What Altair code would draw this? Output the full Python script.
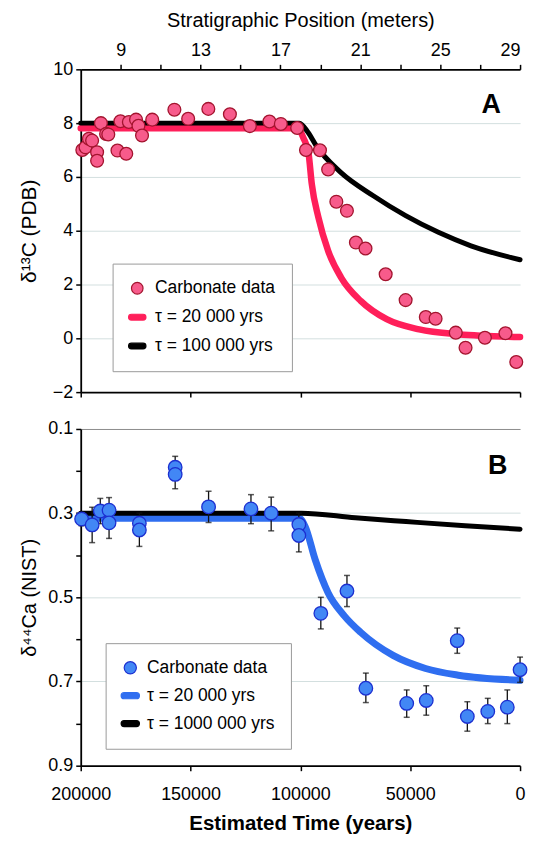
import altair as alt
import pandas as pd

FONT = "Liberation Sans"

# ---------------- Panel A : d13C vs stratigraphic position (m) ----------------
a_pos = [7.08, 7.24, 7.41, 7.57, 7.82, 7.82, 8.01, 8.27, 8.38, 8.84, 9.28, 8.99, 9.41, 9.77,
         9.89, 10.07, 10.58, 11.69, 12.38, 13.39, 14.47, 15.47, 16.45, 17.02, 17.84, 18.28,
         18.98, 19.39, 19.80, 20.33, 20.78, 21.26, 22.27, 23.27, 24.28, 24.77, 25.78, 26.27,
         27.24, 28.27, 28.81]
a_d13c = [7.0, 7.1, 7.42, 7.35, 6.92, 6.6, 8.0, 7.6, 7.58, 6.98, 6.86, 8.07, 8.04, 8.13,
          7.9, 7.54, 8.13, 8.5, 8.16, 8.53, 8.33, 7.89, 8.06, 7.97, 7.82, 7.0,
          6.99, 6.28, 5.08, 4.74, 3.56, 3.34, 2.38, 1.42, 0.79, 0.73, 0.21, -0.35,
          0.02, 0.19, -0.88]

# model curve tau = 20 000 yrs
a_fast_pos = [7.0, 17.85, 18.15, 18.41, 18.57, 18.90, 19.39, 20.04, 21.02, 22.32, 23.95, 25.91, 29.0]
a_fast_val = [7.81, 7.81, 7.45, 6.86, 5.74, 4.5, 3.25, 2.26, 1.39, 0.71, 0.33, 0.15, 0.05]
# model curve tau = 100 000 yrs
a_slow_pos = [7.0, 17.95, 18.38, 18.8, 20.02, 21.65, 23.27, 24.91, 26.54, 29.0]
a_slow_val = [8.0, 8.0, 7.66, 7.15, 6.17, 5.3, 4.56, 3.94, 3.44, 2.92]

a_legend = ["Carbonate data", "τ = 20 000 yrs", "τ = 100 000 yrs"]

# ---------------- Panel B : d44Ca vs estimated time (years) ----------------
b_time = [199600, 194800, 191100, 187100, 187100, 173300, 173300, 157000, 157000, 141800,
          122500, 113300, 100700, 100700, 90700, 78800, 70200, 51600, 42700, 28600,
          24000, 14700, 5800, 0]
b_d44 = [0.314, 0.328, 0.295, 0.293, 0.323, 0.324, 0.340, 0.191, 0.208, 0.285,
         0.29, 0.30, 0.327, 0.353, 0.538, 0.485, 0.716, 0.752, 0.745, 0.603,
         0.783, 0.771, 0.761, 0.672]

e_time = [199600, 194800, 191100, 187100, 173300, 157000, 141800, 122500, 113300, 100700,
          90700, 78800, 70200, 51600, 42700, 28600, 24000, 14700, 5800, 0]
e_lo = [0.30, 0.286, 0.265, 0.263, 0.30, 0.165, 0.248, 0.256, 0.262, 0.30,
        0.50, 0.448, 0.68, 0.72, 0.71, 0.573, 0.748, 0.74, 0.72, 0.642]
e_hi = [0.33, 0.37, 0.325, 0.36, 0.379, 0.242, 0.322, 0.325, 0.342, 0.392,
        0.575, 0.522, 0.75, 0.785, 0.78, 0.633, 0.818, 0.80, 0.80, 0.702]

b_fast_time = [200000, 100500, 97800, 93300, 87400, 80000, 72600, 57800, 43000, 28100, 0]
b_fast_val = [0.312, 0.312, 0.332, 0.41, 0.489, 0.544, 0.583, 0.638, 0.669, 0.685, 0.697]
b_slow_time = [200000, 99500, 75000, 51900, 25000, 0]
b_slow_val = [0.30, 0.30, 0.311, 0.32, 0.33, 0.338]

b_legend = ["Carbonate data", "τ = 20 000 yrs", "τ = 1000 000 yrs"]

# axis tick values / labels
strat_ticks = [9, 11, 13, 15, 17, 19, 21, 23, 25, 27, 29]
time_ticks = [0, 50000, 100000, 150000, 200000]
d13c_ticks = [-2, -1, 0, 1, 2, 3, 4, 5, 6, 7, 8, 9, 10]
d44_ticks = [0.1, 0.2, 0.3, 0.4, 0.5, 0.6, 0.7, 0.8, 0.9]

# colours
PINK_FILL, PINK_EDGE, PINK_LINE = "#f75b8b", "#a3142e", "#ff1f5a"
BLUE_FILL, BLUE_EDGE, BLUE_LINE = "#4287f5", "#1c2fd0", "#2f6ef0"
GRID = "#d3dfdf"
BAR = "M-1,-0.5 L1,-0.5 A0.5,0.5 0 0 1 1,0.5 L-1,0.5 A0.5,0.5 0 0 1 -1,-0.5 Z"

W = 441
HA, HB = 324, 338

# ---------------- build panel A ----------------
df_a = pd.DataFrame({"pos": a_pos, "val": a_d13c, "series": a_legend[0]})
df_af = pd.DataFrame({"pos": a_fast_pos, "val": a_fast_val})
df_as = pd.DataFrame({"pos": a_slow_pos, "val": a_slow_val})

xa = alt.Scale(domain=[7, 29], nice=False, zero=False)
ya = alt.Scale(domain=[-2, 10], nice=False, zero=False)
xa_axis = alt.Axis(orient="top", values=strat_ticks, labelFlush=True,
                   labelExpr="(datum.value - 9) % 4 == 0 ? datum.label : ''",
                   title="Stratigraphic Position (meters)", grid=False, titleFontSize=20,
                   labelPadding=5, titlePadding=11, titleFontWeight="normal")
ya_axis = alt.Axis(values=d13c_ticks, labelExpr="datum.value % 2 == 0 ? datum.label : ''",
                   title="δ¹³C (PDB)", titleFontSize=21, titleFontWeight="normal", titlePadding=13,
                   grid=True,
                   gridColor={"condition": {"test": "datum.value % 2 == 0 && datum.value > -2 && datum.value < 10",
                                            "value": GRID}, "value": "transparent"})

leg_a = alt.Legend(title=None, orient="none", legendX=32, legendY=195,
                   fillColor="white", strokeColor="#9a9a9a", padding=16,
                   labelFont=FONT, labelFontSize=17.5, symbolSize=135, rowPadding=10,
                   labelOffset=9, symbolStrokeWidth=1.2)

a_fast = alt.Chart(df_af).mark_line(color=PINK_LINE, strokeWidth=6.5, interpolate="monotone",
                                   strokeCap="round").encode(
    x=alt.X("pos:Q", scale=xa, axis=xa_axis), y=alt.Y("val:Q", scale=ya, axis=ya_axis))
a_slow = alt.Chart(df_as).mark_line(color="black", strokeWidth=5, interpolate="monotone",
                                   strokeCap="round").encode(
    x=alt.X("pos:Q"), y=alt.Y("val:Q"))
a_pts = alt.Chart(df_a).mark_point(filled=True, size=165, opacity=1, strokeWidth=1.3).encode(
    x=alt.X("pos:Q"), y=alt.Y("val:Q"),
    fill=alt.Fill("series:N", scale=alt.Scale(domain=a_legend, range=[PINK_FILL, PINK_LINE, "black"]), legend=leg_a),
    stroke=alt.Stroke("series:N", scale=alt.Scale(domain=a_legend, range=[PINK_EDGE, PINK_LINE, "black"]), legend=leg_a),
    shape=alt.Shape("series:N", scale=alt.Scale(domain=a_legend, range=["circle", BAR, BAR]), legend=leg_a),
)
a_lab = alt.Chart(pd.DataFrame({"pos": [27.56], "val": [8.66], "t": ["A"]})).mark_text(
    font=FONT, fontSize=27, fontWeight="bold", align="center", baseline="middle").encode(
    x="pos:Q", y="val:Q", text="t:N")

a_time_axis = alt.Chart(pd.DataFrame({"t": time_ticks})).mark_point(opacity=0, size=4).encode(
    x=alt.X("t:Q", scale=alt.Scale(domain=[0, 200000], reverse=True, nice=False),
            axis=alt.Axis(orient="bottom", values=time_ticks, labels=False, title=None, grid=False)))

panel_a = alt.layer(alt.layer(a_fast, a_slow, a_pts, a_lab), a_time_axis).resolve_scale(
    x="independent").properties(width=W, height=HA)

# ---------------- build panel B ----------------
df_b = pd.DataFrame({"t": b_time, "val": b_d44, "series": b_legend[0]})
df_e = pd.DataFrame({"t": e_time, "lo": e_lo, "hi": e_hi})
df_bf = pd.DataFrame({"t": b_fast_time, "val": b_fast_val})
df_bs = pd.DataFrame({"t": b_slow_time, "val": b_slow_val})

xb = alt.Scale(domain=[0, 200000], reverse=True, nice=False)
yb = alt.Scale(domain=[0.1, 0.9], reverse=True, nice=False, zero=False)
xb_axis = alt.Axis(values=time_ticks, format="d", title="Estimated Time (years)", labelFlush=False,
                   titleFontWeight="bold", titleFontSize=20.5, grid=False, labelPadding=15, titlePadding=10)
yb_axis = alt.Axis(values=d44_ticks, format=".1f",
                   labelExpr="abs((datum.value * 10) % 2 - 1) < 0.1 ? datum.label : ''",
                   title="δ⁴⁴Ca (NIST)", titleFontSize=20, titleFontWeight="normal", titlePadding=8,
                   grid=True,
                   gridColor={"condition": [
                       {"test": "abs(datum.value - 0.1) < 0.01", "value": "#8c8c8c"},
                       {"test": "abs((datum.value * 10) % 2 - 1) < 0.1 && datum.value < 0.85", "value": GRID}],
                       "value": "transparent"})

leg_b = alt.Legend(title=None, orient="none", legendX=25, legendY=215,
                   fillColor="white", strokeColor="#9a9a9a", padding=16,
                   labelFont=FONT, labelFontSize=17.5, symbolSize=150, rowPadding=9,
                   labelOffset=8, symbolStrokeWidth=1.2)

b_fast = alt.Chart(df_bf).mark_line(color=BLUE_LINE, strokeWidth=7, interpolate="monotone",
                                   strokeCap="round").encode(
    x=alt.X("t:Q", scale=xb, axis=xb_axis), y=alt.Y("val:Q", scale=yb, axis=yb_axis))
b_slow = alt.Chart(df_bs).mark_line(color="black", strokeWidth=5, interpolate="monotone",
                                   strokeCap="round").encode(x="t:Q", y="val:Q")
b_err = alt.Chart(df_e).mark_rule(color="#111", strokeWidth=1.3).encode(
    x="t:Q", y="lo:Q", y2="hi:Q")
b_cap_lo = alt.Chart(df_e).mark_tick(color="#111", orient="horizontal", size=6, thickness=1.5).encode(
    x="t:Q", y="lo:Q")
b_cap_hi = alt.Chart(df_e).mark_tick(color="#111", orient="horizontal", size=6, thickness=1.5).encode(
    x="t:Q", y="hi:Q")
b_pts = alt.Chart(df_b).mark_point(filled=True, size=185, opacity=1, strokeWidth=1.3).encode(
    x="t:Q", y="val:Q",
    fill=alt.Fill("series:N", scale=alt.Scale(domain=b_legend, range=[BLUE_FILL, BLUE_LINE, "black"]), legend=leg_b),
    stroke=alt.Stroke("series:N", scale=alt.Scale(domain=b_legend, range=[BLUE_EDGE, BLUE_LINE, "black"]), legend=leg_b),
    shape=alt.Shape("series:N", scale=alt.Scale(domain=b_legend, range=["circle", BAR, BAR]), legend=leg_b),
)
b_lab = alt.Chart(pd.DataFrame({"t": [10200], "val": [0.187], "s": ["B"]})).mark_text(
    font=FONT, fontSize=27, fontWeight="bold", align="center", baseline="middle").encode(
    x="t:Q", y="val:Q", text="s:N")

panel_b = alt.layer(b_fast, b_slow, b_err, b_cap_lo, b_cap_hi, b_pts, b_lab).properties(
    width=W, height=HB)

chart = alt.vconcat(panel_a, panel_b, spacing=37, bounds="flush").resolve_scale(
    fill="independent", stroke="independent", shape="independent", x="independent", y="independent"
).properties(padding={"left": 9, "top": 0, "right": 0, "bottom": 0}).configure_axis(
    labelFont=FONT, titleFont=FONT, labelFontSize=18, titleFontSize=18,
    labelColor="black", titleColor="black", domainColor="black", tickColor="black",
    domainWidth=1.8, tickWidth=1.5, tickSize=5, labelPadding=3
).configure_view(stroke="transparent")

chart.save("out.html", embed_options={"renderer": "svg", "actions": False})
